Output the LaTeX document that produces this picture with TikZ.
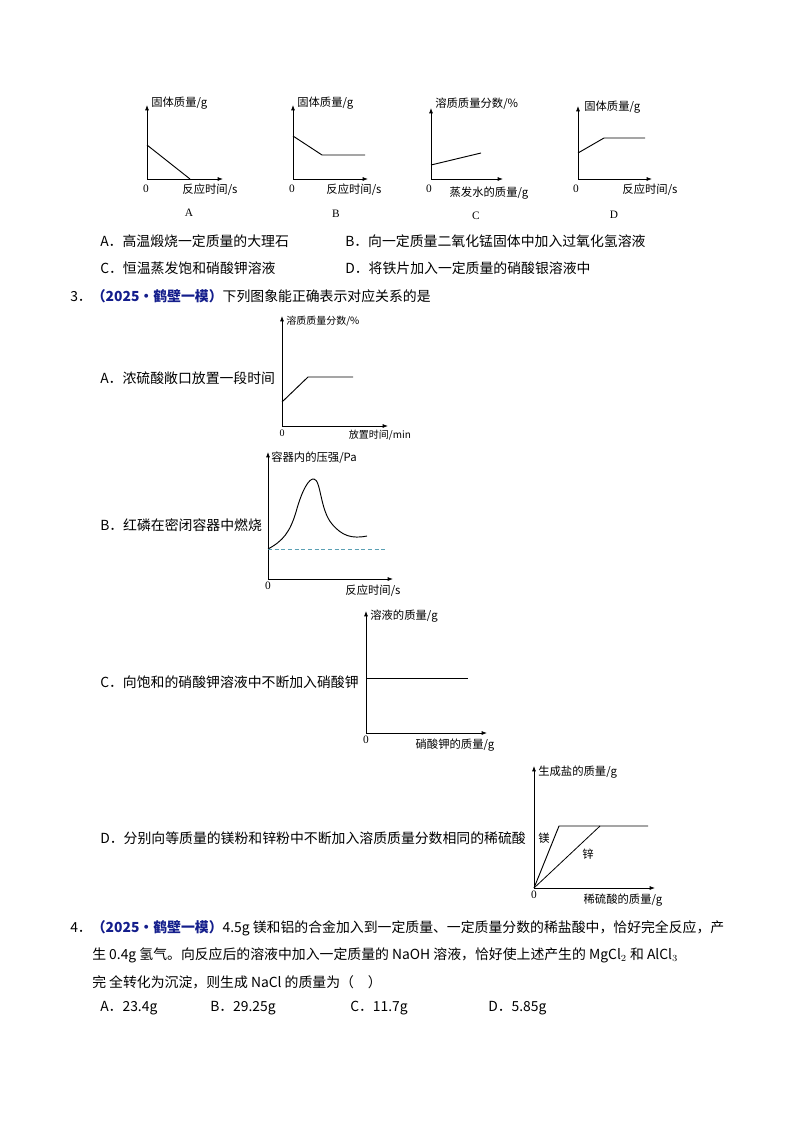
\documentclass[tikz,border=0pt]{standalone}
\usepackage{fontspec}
\setmainfont{Noto Sans CJK SC}
\newfontfamily\lat{Liberation Serif}
\usetikzlibrary{arrows.meta}
\definecolor{qblue}{RGB}{20,30,140}
\definecolor{dashc}{RGB}{90,160,180}
\tikzset{
 ax/.style={-{Latex[length=4pt,width=3pt]},line width=0.6pt},
 cv/.style={line width=0.7pt},
 gl/.style={font=\fontsize{8.5pt}{9pt}\selectfont,inner sep=0pt},
 gs/.style={font=\fontsize{7.5pt}{8pt}\selectfont,inner sep=0pt},
 tx/.style={font=\fontsize{10.4pt}{12pt}\selectfont,inner sep=0pt,anchor=west},
}
\begin{document}
\begin{tikzpicture}[x=0.75pt,y=-0.75pt]
\useasboundingbox (0,0) rectangle (794,1123);
% ---- top graphs
% A
\coordinate (oA) at (147,179);
\draw[ax] (oA) -- (147,105);
\draw[ax] (oA) -- (223,179);
\draw[cv] (147,145) -- (190,179);
\node[gl,anchor=west] (lA) at (151,103) {固体质量/g};
\node[gl] (zA) at (146,189) {\lat 0};
\node[gl] (xA) at (210,190) {反应时间/s};
\node[gl] (cA) at (189,213) {\lat A};
% B
\coordinate (oB) at (293,179);
\draw[ax] (oB) -- (293,105);
\draw[ax] (oB) -- (368,179);
\draw[cv] (293,136) -- (322,155) -- (365,155);
\node[gl,anchor=west] (lB) at (297,103) {固体质量/g};
\node[gl] (zB) at (292,189) {\lat 0};
\node[gl] (xB) at (354,190) {反应时间/s};
\node[gl] (cB) at (336,214) {\lat B};
% C
\coordinate (oC) at (431,179);
\draw[ax] (oC) -- (431,108);
\draw[ax] (oC) -- (503,179);
\draw[cv] (431,165) -- (481,153);
\node[gl,anchor=west] (lC) at (435,104) {溶质质量分数/\%};
\node[gl] (zC) at (429,189) {\lat 0};
\node[gl] (xC) at (489,193) {蒸发水的质量/g};
\node[gl] (cC) at (476,216) {\lat C};
% D
\coordinate (oD) at (578,179);
\draw[ax] (oD) -- (578,106);
\draw[ax] (oD) -- (652,179);
\draw[cv] (578,153) -- (604,138) -- (645,138);
\node[gl,anchor=west] (lD) at (584,107) {固体质量/g};
\node[gl] (zD) at (576,189) {\lat 0};
\node[gl] (xD) at (650,190) {反应时间/s};
\node[gl] (cD) at (614,215) {\lat D};
% options
\node[tx] (o1) at (100,241) {A．高温煅烧一定质量的大理石};
\node[tx] (o2) at (345,241) {B．向一定质量二氧化锰固体中加入过氧化氢溶液};
\node[tx] (o3) at (100,268) {C．恒温蒸发饱和硝酸钾溶液};
\node[tx] (o4) at (345,268) {D．将铁片加入一定质量的硝酸银溶液中};
% ---- question 3
\node[tx] (q3) at (70,296) {3．{\color{qblue}\bfseries（2025·鹤壁一模）}下列图象能正确表示对应关系的是};
% 3A
\coordinate (pA) at (282,426);
\draw[ax] (pA) -- (282,316);
\draw[ax] (pA) -- (388,426);
\draw[cv] (282,402) -- (308,377) -- (353,377);
\node[gs,anchor=west] (mA) at (286,321) {溶质质量分数/\%};
\node[gs] (nA) at (282,433) {\lat 0};
\node[gs] (tA) at (380,435) {放置时间/min};
\node[tx] (sA) at (100,378) {A．浓硫酸敞口放置一段时间};
% 3B
\coordinate (pB) at (268,579);
\draw[ax] (pB) -- (268,452);
\draw[ax] (pB) -- (393,579);
\draw[dashed,dashc,line width=0.7pt,dash pattern=on 3pt off 2pt] (268,549) -- (385,549);
\draw[cv] (268,549) .. controls (283,541) and (290,532) .. (296,512)
  .. controls (302,490) and (309,478) .. (314,479)
  .. controls (321,480) and (320,510) .. (332,524)
  .. controls (342,536) and (352,539) .. (367,536);
\node[gl,anchor=west] (mB) at (271,458) {容器内的压强/Pa};
\node[gl] (nB) at (268,586) {\lat 0};
\node[gl] (tB) at (373,591) {反应时间/s};
\node[tx] (sB) at (100,525) {B．红磷在密闭容器中燃烧};
% 3C
\coordinate (pC) at (366,733);
\draw[ax] (pC) -- (366,611);
\draw[ax] (pC) -- (487,733);
\draw[cv] (366,678) -- (468,678);
\node[gl,anchor=west] (mC) at (370,616) {溶液的质量/g};
\node[gl] (nC) at (366,740) {\lat 0};
\node[gl] (tC) at (455,745) {硝酸钾的质量/g};
\node[tx] (sC) at (100,682) {C．向饱和的硝酸钾溶液中不断加入硝酸钾};
% 3D
\coordinate (pD) at (534,888);
\draw[ax] (pD) -- (534,766);
\draw[ax] (pD) -- (655,888);
\draw[cv] (pD) -- (559,826) -- (648,826);
\draw[cv,line width=0.6pt] (pD) -- (600,826);
\node[gl,anchor=west] (mD) at (538,772) {生成盐的质量/g};
\node[gl] (nD) at (534,895) {\lat 0};
\node[gl] (tD) at (623,900) {稀硫酸的质量/g};
\node[gl] (mg) at (544,838) {镁};
\node[gl] (zn) at (588,854) {锌};
\node[tx] (sD) at (100,838) {D．分别向等质量的镁粉和锌粉中不断加入溶质质量分数相同的稀硫酸};
% ---- question 4
\node[tx] (q4a) at (70,928) {4．{\color{qblue}\bfseries（2025·鹤壁一模）}4.5g 镁和铝的合金加入到一定质量、一定质量分数的稀盐酸中，恰好完全反应，产};
\node[tx] (q4b) at (92,955) {生 0.4g 氢气。向反应后的溶液中加入一定质量的 NaOH 溶液，恰好使上述产生的 MgCl$_2$ 和 AlCl$_3$};
\node[tx] (q4c) at (92,982) {完 全转化为沉淀，则生成 NaCl 的质量为（\quad ）};
\node[tx] (q4A) at (100,1008) {A．23.4g};
\node[tx] (q4B) at (210,1008) {B．29.25g};
\node[tx] (q4C) at (350,1008) {C．11.7g};
\node[tx] (q4D) at (488,1008) {D．5.85g};
\end{tikzpicture}
\end{document}
